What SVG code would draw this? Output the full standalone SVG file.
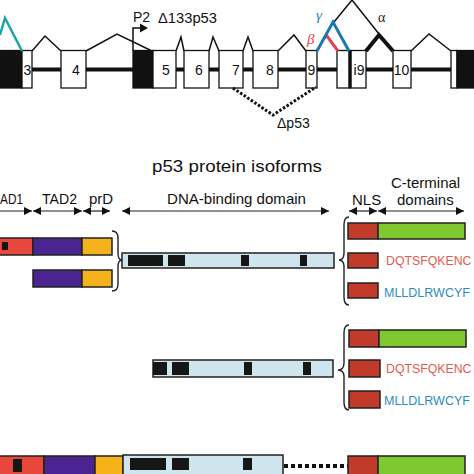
<svg xmlns="http://www.w3.org/2000/svg" width="474" height="474" viewBox="0 0 474 474">
<defs>
<style>
text{font-family:"Liberation Sans",Arial,Helvetica,sans-serif;fill:#111}
.ex{fill:#fff;stroke:#111;stroke-width:1.3}
.blk{fill:#111;stroke:#111;stroke-width:1.3}
.intr{stroke:#111;stroke-width:4;fill:none}
.spl{stroke:#111;stroke-width:1.5;fill:none}
.num{font-size:14px;text-anchor:middle}
.lbl{font-size:15px}
.dom{stroke:#222;stroke-width:1.2;fill:none}
.bar{stroke:#222;stroke-width:1.5}
.red{fill:#e8473c}.pur{fill:#4a2490}.org{fill:#f5b21a}.grn{fill:#7fc832}.nls{fill:#c23a2a}.dbd{fill:#cfe5ee}
.bk{fill:#161616}
.brace{fill:none;stroke:#222;stroke-width:1.4}
.greek{font-family:"Liberation Serif","Times New Roman",serif;font-style:italic;font-size:15px}
.seqr{font-size:12.3px;fill:#e35a4e}
.seqb{font-size:12.5px;fill:#2a8bc4}
</style>
<marker id="ah" viewBox="0 0 10 10" refX="10" refY="5" markerWidth="8" markerHeight="8" markerUnits="userSpaceOnUse" orient="auto-start-reverse"><path d="M0,0L10,5L0,10z" fill="#111"/></marker>
</defs>

<g id="gene">
  <g id="introns">
    <path class="intr" d="M32,69.5H61M86,69.5H133M176,69.5H184M209,69.5H219M243,69.5H253M278,69.5H306M317,69.5H337M366,69.5H393M411,69.5H451"/>
  </g>
  <g id="exon-1"><rect class="blk" x="-2" y="50.5" width="24" height="37.5"/></g>
  <g id="exon-3"><rect class="ex" x="22" y="50.5" width="10" height="37.5"/><text class="num" x="27.5" y="75">3</text></g>
  <g id="exon-4"><rect class="ex" x="61" y="50.5" width="25" height="37.5"/><text class="num" x="76" y="75">4</text></g>
  <g id="exon-5"><rect class="blk" x="133" y="50.5" width="20" height="37.5"/><rect class="ex" x="153" y="50.5" width="23" height="37.5"/><text class="num" x="166" y="75">5</text></g>
  <g id="exon-6"><rect class="ex" x="184" y="50.5" width="25" height="37.5"/><text class="num" x="199" y="75">6</text></g>
  <g id="exon-7"><rect class="ex" x="219" y="50.5" width="24" height="37.5"/><text class="num" x="236" y="75">7</text></g>
  <g id="exon-8"><rect class="ex" x="253" y="50.5" width="25" height="37.5"/><text class="num" x="270" y="75">8</text></g>
  <g id="exon-9"><rect class="ex" x="306" y="50.5" width="11" height="37.5"/><text class="num" x="311.5" y="75">9</text></g>
  <g id="exon-9b"><rect class="ex" x="337" y="50.5" width="13" height="37.5"/></g>
  <g id="exon-i9"><rect class="ex" x="350" y="50.5" width="16" height="37.5"/><line x1="350" y1="50.5" x2="350" y2="88" stroke="#111" stroke-width="3.5"/><text class="num" x="359" y="75">i9</text></g>
  <g id="exon-10"><rect class="ex" x="393" y="50.5" width="18" height="37.5"/><text class="num" x="401.5" y="75">10</text></g>
  <g id="exon-11"><rect class="ex" x="451" y="50.5" width="6" height="37.5"/><rect class="blk" x="457" y="50.5" width="20" height="37.5"/></g>
</g>

<g id="splicing">
  <polyline points="0,35 5,18 22,51" fill="none" stroke="#1ea3a6" stroke-width="2.5"/>
  <polyline class="spl" points="32,51 45,36 61,51"/>
  <polyline class="spl" points="86,51 117,34 152,51"/>
  <polyline class="spl" points="176,51 181,37 184,51"/>
  <polyline class="spl" points="209,51 213,37 219,51"/>
  <polyline class="spl" points="243,51 248,37 253,51"/>
  <polyline class="spl" points="278,51 294,35 306,51"/>
  <polyline class="spl" points="334,22 352,0 379,34"/>
  <polyline points="366,51 379,35 393,51" fill="none" stroke="#111" stroke-width="4"/>
  <polyline class="spl" points="411,51 429,34 451,51"/>
  <polyline points="324,38 327,36 338,51" fill="none" stroke="#e0424f" stroke-width="3"/>
  <polyline points="317,51 333,22 349,51" fill="none" stroke="#1c77b4" stroke-width="3"/>
  <text class="greek" x="316" y="20" style="fill:#2f86c4">γ</text>
  <text class="greek" x="307" y="44" style="fill:#e0424f">β</text>
  <text x="378" y="22" style="font-size:14px;fill:#222;font-family:'Liberation Serif',serif">α</text>
  <path d="M133,51V28H141" fill="none" stroke="#111" stroke-width="1.5"/>
  <polygon points="140,23.5 148,28 140,32.5" fill="#111"/>
  <text x="133" y="22" style="font-size:14px">P2</text>
  <text x="158" y="23" style="font-size:14px" textLength="59" lengthAdjust="spacingAndGlyphs">Δ133p53</text>
  <polyline points="233,88 273,115 316,87" fill="none" stroke="#111" stroke-width="3" stroke-dasharray="2.5 1.8"/>
  <text x="277" y="128" style="font-size:14px">Δp53</text>
</g>

<g id="title"><text x="152" y="172" style="font-size:17px" textLength="170" lengthAdjust="spacingAndGlyphs">p53 protein isoforms</text></g>

<g id="domain-labels">
  <text class="lbl" x="0" y="204" textLength="23" lengthAdjust="spacingAndGlyphs">AD1</text>
  <text class="lbl" x="42" y="204" textLength="35" lengthAdjust="spacingAndGlyphs">TAD2</text>
  <text class="lbl" x="89" y="204">prD</text>
  <text class="lbl" x="167" y="204" textLength="139" lengthAdjust="spacingAndGlyphs">DNA-binding domain</text>
  <text class="lbl" x="352" y="205">NLS</text>
  <text class="lbl" x="391" y="188">C-terminal</text>
  <text class="lbl" x="397" y="205">domains</text>
  <line class="dom" x1="-5" y1="211" x2="32" y2="211" marker-end="url(#ah)"/>
  <line class="dom" x1="33" y1="211" x2="82" y2="211" marker-start="url(#ah)" marker-end="url(#ah)"/>
  <line class="dom" x1="83" y1="211" x2="110" y2="211" marker-start="url(#ah)" marker-end="url(#ah)"/>
  <line class="dom" x1="122" y1="211" x2="329" y2="211" marker-start="url(#ah)" marker-end="url(#ah)"/>
  <line class="dom" x1="349" y1="211" x2="377" y2="211" marker-start="url(#ah)" marker-end="url(#ah)"/>
  <line class="dom" x1="378" y1="211" x2="464" y2="211" marker-start="url(#ah)" marker-end="url(#ah)"/>
</g>

<g id="isoform-group-1">
  <rect class="bar red" x="-2" y="238" width="35" height="17"/>
  <rect class="bk" x="2" y="242" width="6" height="8"/>
  <rect class="bar pur" x="33" y="238" width="49" height="17"/>
  <rect class="bar org" x="82" y="238" width="30" height="17"/>
  <rect class="bar pur" x="33" y="270" width="49" height="17"/>
  <rect class="bar org" x="82" y="270" width="30" height="17"/>
  <path class="brace" d="M112,231Q118,231 118,238V253Q118,260 122,260Q118,260 118,267V284Q118,291 112,291"/>
  <rect class="bar dbd" x="122" y="253" width="212" height="15"/>
  <rect class="bk" x="128" y="255" width="35" height="11"/>
  <rect class="bk" x="168" y="255" width="17" height="11"/>
  <rect class="bk" x="241" y="255" width="8" height="11"/>
  <rect class="bk" x="300" y="255" width="7" height="11"/>
  <path class="brace" d="M349,217Q344,217 344,225V253Q344,260 339,260Q344,260 344,267V297Q344,305 349,305"/>
  <rect class="bar nls" x="348" y="223" width="30" height="16"/>
  <rect class="bar grn" x="378" y="223" width="87" height="16"/>
  <rect class="bar nls" x="348" y="253" width="30" height="15"/>
  <text class="seqr" x="386" y="265">DQTSFQKENC</text>
  <rect class="bar nls" x="348" y="283" width="30" height="15"/>
  <text class="seqb" x="384" y="297">MLLDLRWCYF</text>
</g>

<g id="isoform-group-2">
  <rect class="bar dbd" x="153" y="360" width="180" height="17"/>
  <rect class="bk" x="153" y="362" width="14" height="13"/>
  <rect class="bk" x="172" y="362" width="17" height="13"/>
  <rect class="bk" x="244" y="362" width="8" height="13"/>
  <rect class="bk" x="303" y="362" width="8" height="13"/>
  <path class="brace" d="M349,325Q344,325 344,333V363Q344,370 338,370Q344,370 344,377V402Q344,410 349,410"/>
  <rect class="bar nls" x="349" y="330" width="30" height="17"/>
  <rect class="bar grn" x="379" y="330" width="87" height="17"/>
  <rect class="bar nls" x="349" y="360" width="31" height="17"/>
  <text class="seqr" x="386" y="373">DQTSFQKENC</text>
  <rect class="bar nls" x="349" y="391" width="31" height="17"/>
  <text class="seqb" x="384" y="405">MLLDLRWCYF</text>
</g>

<g id="isoform-group-3">
  <rect class="bar red" x="-2" y="456" width="46" height="22"/>
  <rect class="bk" x="13" y="459" width="9" height="13"/>
  <rect class="bar pur" x="44" y="456" width="51" height="22"/>
  <rect class="bar org" x="95" y="456" width="28" height="22"/>
  <rect class="bar dbd" x="123" y="455" width="160" height="23"/>
  <rect class="bk" x="130" y="458" width="36" height="12"/>
  <rect class="bk" x="172" y="458" width="17" height="12"/>
  <rect class="bk" x="243" y="458" width="9" height="12"/>
  <line x1="284" y1="466" x2="348" y2="466" stroke="#111" stroke-width="4" stroke-dasharray="4 3"/>
  <rect class="bar nls" x="348" y="456" width="30" height="22"/>
  <rect class="bar grn" x="378" y="456" width="87" height="22"/>
</g>
</svg>
